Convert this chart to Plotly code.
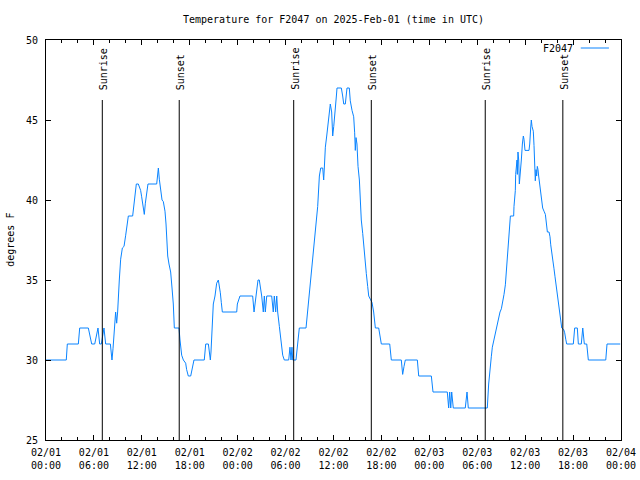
import pandas as pd
import plotly.graph_objects as go

# ---- data (hours since 2025-02-01 00:00 UTC, temperature in deg F) ----
hours = [
    0.0, 2.54, 2.67, 4.05, 4.22, 5.3, 5.51, 5.72, 6.1, 6.3, 6.51, 6.72, 6.93, 7.26, 7.47,
    8.06, 8.26, 8.39, 8.56, 8.72, 8.85, 8.97, 9.18, 9.35, 9.56, 9.77, 9.98, 10.14, 10.31,
    10.85, 11.02, 11.14, 11.31, 11.56, 11.85, 11.98, 12.19, 12.31, 12.44, 12.6, 12.77,
    13.86, 13.94, 14.07, 14.19, 14.36, 14.53, 14.69, 14.9, 15.03, 15.11, 15.24, 15.4,
    15.61, 15.78, 15.94, 16.07, 16.65, 16.78, 16.99, 17.2, 17.49, 17.61, 17.82, 18.12,
    18.28, 18.53, 19.82, 20.0, 20.33, 20.45, 20.58, 20.66, 20.79, 20.95, 21.16, 21.37,
    21.58, 21.7, 21.83, 21.95, 22.08, 23.88, 23.96, 24.29, 25.88, 26.05, 26.3, 26.55,
    26.71, 27.01, 27.21, 27.34, 27.46, 27.64, 28.26, 28.46, 28.59, 28.76, 28.89, 29.01,
    29.22, 29.43, 29.64, 29.84, 30.39, 30.55, 30.68, 30.8, 30.89, 31.3, 31.51, 31.72,
    32.56, 32.76, 32.97, 33.18, 33.39, 33.6, 33.81, 34.02, 34.23, 34.4, 34.65, 34.77,
    34.85, 34.98, 35.15, 35.27, 35.48, 35.6, 35.77, 35.9, 36.03, 36.24, 36.36, 36.44,
    36.98, 37.15, 37.28, 37.48, 37.57, 37.69, 37.98, 38.1, 38.32, 38.53, 38.65, 38.73,
    38.82, 38.94, 39.07, 39.24, 39.36, 39.48, 39.66, 39.78, 39.99, 40.11, 40.28, 40.41,
    40.61, 40.82, 41.03, 41.24, 41.66, 41.86, 41.99, 43.04, 43.24, 44.49, 44.66, 44.83,
    44.99, 46.5, 46.67, 48.25, 48.46, 50.25, 50.42, 50.55, 50.68, 50.8, 51.0, 52.5,
    52.72, 52.88, 55.26, 55.43, 55.6, 55.76, 55.89, 56.06, 56.19, 56.39, 56.52, 56.69,
    56.85, 57.02, 57.23, 57.35, 57.52, 57.64, 57.77, 57.94, 58.02, 58.15, 58.56, 58.6,
    58.77, 58.81, 58.98, 59.02, 59.1, 59.19, 59.27, 59.39, 59.52, 59.65, 59.77, 59.85,
    59.98, 60.48, 60.57, 60.69, 60.77, 60.86, 60.94, 61.02, 61.11, 61.19, 61.27, 61.36,
    61.44, 61.52, 61.61, 61.69, 61.82, 61.94, 62.07, 62.19, 62.36, 62.53, 62.61, 62.69,
    62.78, 62.99, 63.11, 63.2, 63.36, 63.49, 63.61, 63.74, 63.86, 63.99, 64.11, 64.2,
    64.32, 64.45, 64.58, 64.83, 64.95, 65.08, 65.2, 66.03, 66.2, 66.53, 66.66, 67.03,
    67.21, 67.41, 67.71, 67.91, 70.09, 70.25, 71.9,
]
temps = [
    30, 30, 31, 31, 32, 32, 31.5, 31, 31, 31.5, 32, 31, 31, 32, 31,
    31, 30, 30.7, 31.7, 33, 32.3, 33, 35, 36.3, 37, 37.1, 37.8, 38.3, 39,
    39, 39.8, 40.4, 41, 41, 40.6, 40.2, 39.4, 39.1, 39.8, 40.4, 41,
    41, 41.3, 42, 41.3, 40.7, 40, 39.9, 39.3, 38.5, 37.4, 36.5, 36,
    35.5, 34.5, 33.5, 32, 32, 31.25, 30.3, 30, 29.8, 29.4, 29, 29,
    29.4, 30, 30, 31, 31, 30.5, 30, 30.5, 31.9, 33.5, 34, 34.8,
    35, 34.7, 34.2, 33.6, 33, 33, 33.5, 34, 34, 33, 34, 35,
    35, 34, 33, 34, 33, 34, 34, 33, 34, 33, 34, 33,
    32.1, 31.25, 30.3, 30, 30, 30.8, 30, 30.8, 30, 30, 31, 32,
    32, 33, 34, 35.4, 36.25, 37.3, 38.5, 39.6, 41.5, 42, 42, 41.25,
    42, 43.3, 44, 44.6, 45.5, 46, 45.5, 44, 44.6, 45.6, 46.5, 47,
    47, 46.5, 46, 46, 46.5, 47, 47, 46.2, 45.6, 45.2, 44.2, 43.1,
    43.9, 43.5, 42.1, 41.25, 40, 38.75, 37.9, 37.1, 36.25, 35.4, 34.6, 34,
    33.8, 33.6, 33, 32, 32, 31.25, 31, 31, 30, 30, 29.1, 29.6,
    30, 30, 29, 29, 28, 28, 27, 28, 27, 28, 27, 27,
    28, 27, 27, 28.5, 29.6, 30.2, 30.8, 31.2, 31.6, 32, 32.3, 32.7,
    33, 33.2, 33.7, 34.1, 34.7, 35.5, 36.4, 37.5, 38.5, 39, 39, 39.6,
    40.6, 41.6, 42.5, 41.6, 43, 42.5, 41, 41.6, 42.5, 43.5, 44, 43.8,
    43.1, 43.1, 43.5, 44.5, 45, 44.6, 44.5, 44.3, 43.4, 42, 41.2, 41.9,
    41.5, 42.1, 41.9, 41.5, 41, 40.6, 40.1, 39.5, 39.3, 39.1, 38.75, 38.2,
    38, 38, 37.7, 37.2, 36.7, 36.25, 35.7, 35.2, 34.7, 34.2, 33.75, 33.2,
    32.75, 32.2, 32, 31.9, 31.7, 31.3, 31, 31, 32, 32, 31, 31,
    32, 31, 31, 30, 30, 31, 31,
]

sunrise_times = ["2025-02-01 07:03", "2025-02-02 07:01", "2025-02-03 07:00"]
sunset_times = ["2025-02-01 16:41", "2025-02-02 16:44", "2025-02-03 16:43"]

tick_times = pd.date_range("2025-02-01 00:00", "2025-02-04 00:00", freq="6h")
tick_labels = ["02/01<br>00:00", "02/01<br>06:00", "02/01<br>12:00", "02/01<br>18:00",
               "02/02<br>00:00", "02/02<br>06:00", "02/02<br>12:00", "02/02<br>18:00",
               "02/03<br>00:00", "02/03<br>06:00", "02/03<br>12:00", "02/03<br>18:00",
               "02/04<br>00:00"]
y_ticks = [25, 30, 35, 40, 45, 50]
series_name = "F2047"

# ---- build ----
base = pd.Timestamp("2025-02-01 00:00")
times = [base + pd.Timedelta(hours=h) for h in hours]

FONT = "DejaVu Sans Mono"
LINE_COLOR = "#0a84ff"

fig = go.Figure()
fig.add_trace(go.Scatter(x=times, y=temps, mode="lines", name=series_name,
                         line=dict(color=LINE_COLOR, width=1), showlegend=False))

for label, tlist in (("Sunrise", sunrise_times), ("Sunset", sunset_times)):
    for t in tlist:
        fig.add_shape(type="line", xref="x", yref="paper", x0=t, x1=t, y0=0, y1=0.85,
                      line=dict(color="black", width=1))
        fig.add_annotation(x=t, xref="x", y=0.87, yref="paper", text=label,
                           textangle=-90, showarrow=False, xanchor="center",
                           yanchor="bottom", xshift=1,
                           font=dict(family=FONT, size=10, color="black"))

# legend (gnuplot style: text then line sample)
fig.add_annotation(x=0.92, y=0.98, xref="paper", yref="paper", text=series_name,
                   showarrow=False, xanchor="right", yanchor="middle",
                   font=dict(family=FONT, size=10, color="black"))
fig.add_shape(type="line", xref="paper", yref="paper", x0=0.93, x1=0.979, y0=0.98, y1=0.98,
              line=dict(color=LINE_COLOR, width=1))

# y-axis label
fig.add_annotation(x=-0.063, y=0.5, xref="paper", yref="paper", text="degrees F",
                   textangle=-90, showarrow=False, xanchor="center", yanchor="middle",
                   font=dict(family=FONT, size=10, color="black"))

fig.update_layout(
    width=640, height=480,
    margin=dict(l=46, r=19, t=40, b=40),
    paper_bgcolor="white", plot_bgcolor="white",
    font=dict(family=FONT, size=10, color="black"),
    title=dict(text="Temperature for F2047 on 2025-Feb-01 (time in UTC)",
               x=0.5, xref="paper", xanchor="center", y=1 - 19 / 480, yanchor="middle",
               font=dict(family=FONT, size=10, color="black")),
    showlegend=False,
)
fig.update_xaxes(
    range=[base, base + pd.Timedelta(hours=72)],
    tickvals=list(tick_times), ticktext=tick_labels,
    ticks="inside", ticklen=5, tickcolor="black", tickwidth=1,
    minor=dict(dtick=2 * 3600 * 1000, ticks="inside", ticklen=3, tickcolor="black", showgrid=False),
    showline=True, linecolor="black", linewidth=1, mirror="ticks",
    showgrid=False, zeroline=False, automargin=False, ticklabelstandoff=3,
    tickfont=dict(family=FONT, size=10, color="black"),
)
fig.update_yaxes(
    range=[25, 50], tickvals=y_ticks,
    ticks="inside", ticklen=5, tickcolor="black", tickwidth=1,
    showline=True, linecolor="black", linewidth=1, mirror="ticks",
    showgrid=False, zeroline=False, automargin=False, ticklabelstandoff=5,
    tickfont=dict(family=FONT, size=10, color="black"),
)

fig.write_html("out.html", config={"displayModeBar": False},
               post_script="document.body.style.margin='0';")
